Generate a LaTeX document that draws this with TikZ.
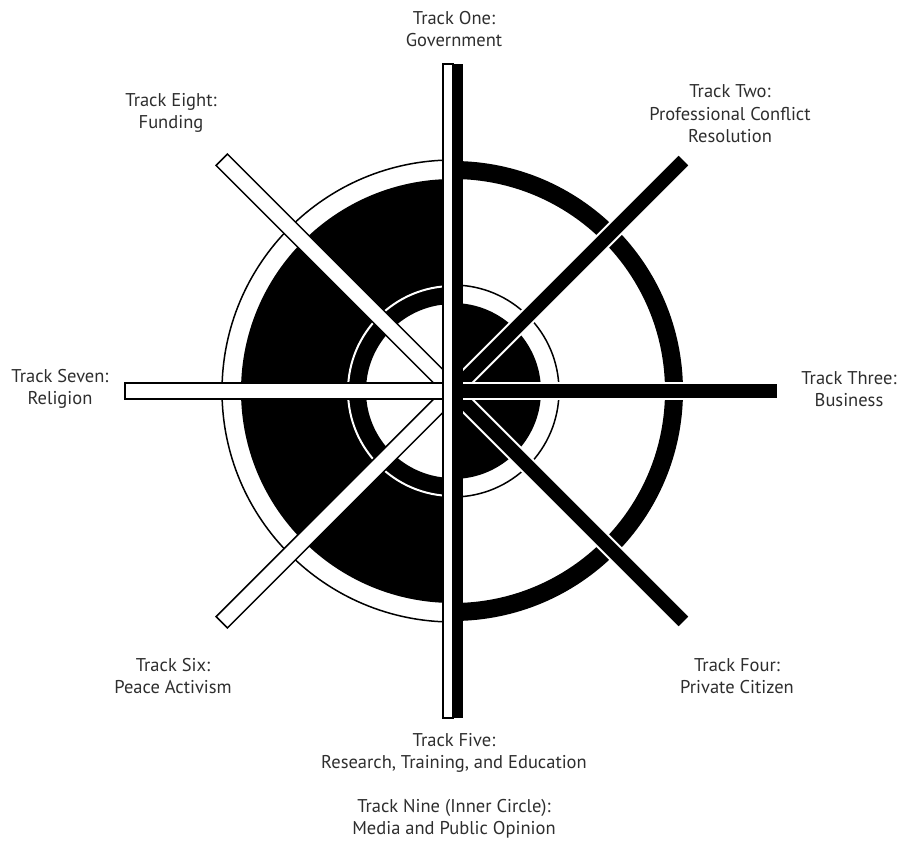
\documentclass[tikz,border=0pt]{standalone}
\usepackage{fontspec}
\setmainfont{PT Sans}
\definecolor{labelgray}{HTML}{2E2E2E}

\begin{document}
\begin{tikzpicture}[x=1pt, y=-1pt,
    every node/.style={font=\fontsize{18.5}{22.5}\selectfont, text=labelgray, align=center},
    hellspeiche/.style={fill=white, draw=black, line width=1.5pt},
    dunkelspeiche/.style={fill=black, draw=white, line width=2pt}]
  \useasboundingbox (0, 0) rectangle (898, 843);
  \coordinate (nabe) at (453, 391);
  % Linke Haelfte: schwarzer Ring, weisse Mitte
  \begin{scope}
    \clip (0, 0) rectangle (453, 843);
    \fill[black, even odd rule] (nabe) circle[radius=212] (nabe) circle[radius=87];
    \draw[white, line width=2pt] (nabe) circle[radius=105];
    \draw[black, line width=1.5pt] (nabe) circle[radius=231];
  \end{scope}
  % Rechte Haelfte: schwarze Mitte, schwarzer Aussenring
  \begin{scope}
    \clip (453, 0) rectangle (898, 843);
    \fill[black] (nabe) circle[radius=88];
    \draw[black, line width=1.5pt] (nabe) circle[radius=106];
    \fill[black, even odd rule] (nabe) circle[radius=230] (nabe) circle[radius=212];
  \end{scope}
  % Diagonale Speichen
  \begin{scope}[shift={(nabe)}]
    \foreach \w in {135, -135}{ \draw[hellspeiche, rotate=\w] (0, -8) rectangle (327, 8); }
    \foreach \w in {45, -45}{ \draw[dunkelspeiche, rotate=\w] (0, -8) rectangle (327, 8); }
    % Waagrechte Speichen
    \draw[hellspeiche, rotate=180] (0, -8) rectangle (328, 8);
    \draw[dunkelspeiche] (0, -8) rectangle (325, 8);
    % Senkrechter Balken (halb weiss, halb schwarz)
    \draw[hellspeiche] (-10, -327) rectangle (0, 327);
    \fill[black] (0, -327) rectangle (10, 327);
  \end{scope}
  % Beschriftung
  \node (one) at (454, 29) {Track One:\\Government};
  \node (two) at (730, 114) {Track Two:\\Professional Conflict\\Resolution};
  \node (three) at (849, 389) {Track Three:\\Business};
  \node (four) at (737, 676) {Track Four:\\Private Citizen};
  \node (five) at (454, 753) {Track Five:\\Research, Training, and Education};
  \node (nine) at (454, 819) {Track Nine (Inner Circle):\\Media and Public Opinion};
  \node (six) at (173, 676) {Track Six:\\Peace Activism};
  \node (seven) at (60, 389) {Track Seven:\\Religion};
  \node (eight) at (171, 113) {Track Eight:\\Funding};
\end{tikzpicture}
\end{document}
